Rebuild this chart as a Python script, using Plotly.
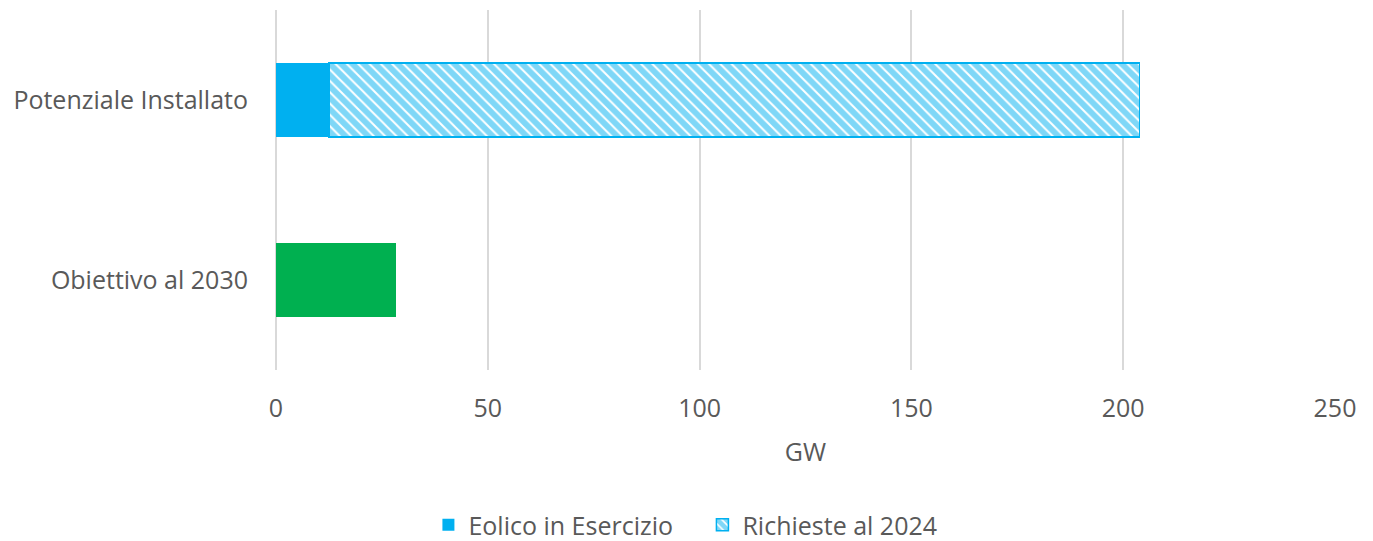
import plotly.graph_objects as go

# categories (bottom to top as plotly draws them)
categories = ["Obiettivo al 2030", "Potenziale Installato"]

eolico_esercizio = 12.5     # Potenziale Installato, solid blue
richieste_2024 = 191.3      # Potenziale Installato, hatched
obiettivo_2030 = 28.3       # Obiettivo al 2030, green

BLUE = "#00B0F0"
GREEN = "#00B050"
GREY = "#595959"
FONT = "Open Sans, sans-serif"

fig = go.Figure()

fig.add_trace(go.Bar(
    y=[categories[0]], x=[obiettivo_2030], orientation="h",
    marker=dict(color=GREEN, line_width=0),
    showlegend=False, name="Obiettivo al 2030",
))
fig.add_trace(go.Bar(
    y=[categories[1]], x=[eolico_esercizio], orientation="h",
    marker=dict(color=BLUE, line_width=0),
    name="Eolico in Esercizio",
))
fig.add_trace(go.Bar(
    y=[categories[1]], x=[richieste_2024], orientation="h",
    marker=dict(
        color="white",
        line=dict(color=BLUE, width=1.5),
        pattern=dict(shape="\\", fgcolor=BLUE, bgcolor="white", size=8, solidity=0.75),
    ),
    name="Richieste al 2024",
))

# the page puts the figure 8px in from the top-left corner
fig.update_layout(
    barmode="stack",
    bargap=0.59,
    width=1365, height=533,
    margin=dict(l=268, r=38, t=2, b=171),
    paper_bgcolor="white",
    plot_bgcolor="white",
    font=dict(family=FONT, size=25, color=GREY),
    xaxis=dict(
        range=[0, 250],
        dtick=50,
        automargin=False,
        showgrid=True,
        gridcolor="#D9D9D9",
        gridwidth=2,
        zeroline=True,
        zerolinecolor="#D9D9D9",
        zerolinewidth=2,
        ticks="outside", ticklen=16, tickcolor="rgba(0,0,0,0)",
        title=dict(text="GW", standoff=20, font=dict(size=25, color=GREY)),
    ),
    yaxis=dict(
        categoryorder="array",
        categoryarray=categories,
        automargin=False,
        showgrid=False,
        zeroline=False,
        ticks="outside", ticklen=22, tickcolor="rgba(0,0,0,0)",
    ),
    legend=dict(
        orientation="h",
        xref="container", x=0.308, xanchor="left",
        yref="container", y=0.03, yanchor="middle",
        font=dict(size=25, color=GREY),
        traceorder="normal",
        entrywidth=229, entrywidthmode="pixels",
    ),
)

fig.write_html("out.html")
